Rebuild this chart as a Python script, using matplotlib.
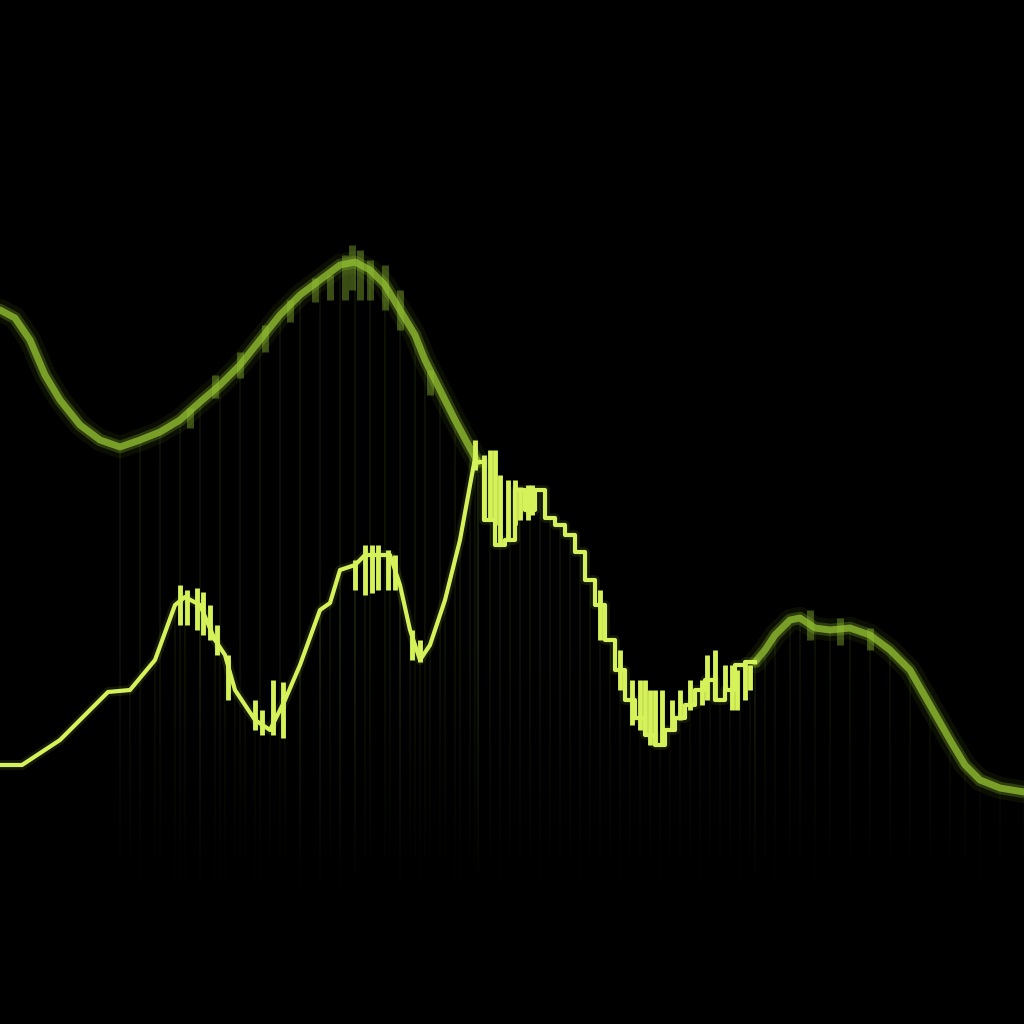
import numpy as np
import matplotlib.pyplot as plt

# --- datos (eje y invertido, 0 arriba) ---
# curva de fondo (desenfocada), parte izquierda
back_x = [0, 15, 30, 45, 60, 80, 100, 120, 140, 160, 180, 200, 220, 240, 260,
          280, 300, 320, 340, 355, 370, 385, 400, 415, 425, 440, 455, 470, 478]
back_y = [310, 318, 340, 375, 400, 425, 440, 447, 440, 432, 420, 402, 385, 365, 340,
          315, 295, 280, 265, 262, 270, 285, 310, 335, 360, 390, 420, 448, 462]

# curva de fondo, cola derecha
tail_x = [755, 765, 775, 790, 800, 815, 830, 850, 870, 890, 910, 930, 950, 965, 980, 1000, 1024]
tail_y = [662, 650, 635, 620, 618, 628, 630, 628, 635, 650, 670, 705, 740, 765, 780, 788, 792]

# continuacion nitida de la curva de fondo (escalonada)
mid_x = [478, 490, 500, 510, 520, 530, 540, 550, 560, 570, 580, 590, 600, 610, 620, 630,
         640, 650, 660, 670, 680, 690, 700, 710, 720, 730, 740, 750, 755]
mid_y = [462, 520, 545, 540, 490, 510, 490, 518, 525, 535, 552, 580, 605, 640, 670, 700,
         718, 735, 745, 730, 718, 705, 690, 680, 700, 690, 665, 662, 662]

# curva frontal (brillante)
front_x = [0, 22, 60, 108, 130, 155, 175, 185, 200, 215, 225, 235, 245, 255, 270, 285,
           300, 320, 330, 340, 355, 365, 390, 400, 410, 420, 430, 445, 460, 475]
front_y = [765, 765, 740, 692, 690, 660, 605, 597, 605, 640, 655, 690, 705, 720, 730, 700,
           665, 610, 603, 570, 565, 555, 555, 585, 630, 660, 645, 600, 540, 458]

# trazos verticales (picos) x, arriba, abajo
spk_x = [180, 187, 197, 203, 210, 217, 228, 255, 262, 273, 283, 355, 365, 372, 378, 388,
         395, 412, 420, 475, 484, 490, 495, 500, 508, 515, 520, 528, 532, 600, 620, 632,
         640, 645, 650, 655, 662, 672, 680, 690, 702, 707, 715, 725, 732, 737, 745, 750]
spk_top = [585, 590, 588, 592, 605, 625, 655, 700, 710, 680, 682, 560, 545, 545, 545, 550,
           555, 630, 640, 440, 455, 450, 450, 475, 480, 480, 487, 485, 485, 590, 650, 680,
           680, 680, 690, 690, 690, 700, 690, 680, 680, 655, 650, 665, 665, 670, 662, 665]
spk_bot = [625, 625, 630, 635, 640, 655, 700, 730, 735, 735, 738, 590, 595, 593, 590, 590,
           590, 660, 662, 470, 520, 520, 525, 545, 540, 525, 520, 520, 515, 640, 690, 725,
           730, 735, 745, 745, 745, 730, 720, 710, 705, 700, 700, 690, 710, 710, 700, 690]

# picos difusos de la curva de fondo
bspk_x = [190, 215, 240, 265, 290, 315, 330, 345, 352, 360, 370, 385, 400, 430, 810, 840, 870]
bspk_top = [408, 375, 352, 325, 300, 278, 275, 255, 245, 250, 260, 265, 290, 370, 610, 618, 628]
bspk_bot = [428, 398, 378, 352, 322, 302, 300, 300, 290, 300, 300, 310, 330, 395, 640, 645, 650]

BRIGHT = '#d6f25a'
DIM = '#93c233'

fig = plt.figure(figsize=(10.24, 10.24), dpi=100, facecolor='black')
ax = fig.add_axes([0, 0, 1, 1])
ax.set_facecolor('black')

# rayas verticales tenues bajo las curvas (solo desde x=120)
for xs, ys in [(back_x, back_y), (mid_x, mid_y), (tail_x, tail_y), (front_x, front_y)]:
    xs = np.array(xs)
    ys = np.array(ys)
    m = xs >= 120
    ax.vlines(xs[m], ys[m], 900, color='#3f5a18', lw=1.2, alpha=0.22)

# degradado negro para que las rayas se desvanezcan hacia abajo
grad = np.linspace(0, 1, 256).reshape(-1, 1)
fade = np.zeros((256, 1, 4))
fade[..., 3] = grad
ax.imshow(fade, extent=[0, 1024, 900, 650], aspect='auto', zorder=2)

# curvas desenfocadas (glow)
for xs, ys in [(back_x, back_y), (tail_x, tail_y)]:
    ax.plot(xs, ys, color=DIM, lw=16, alpha=0.08, solid_capstyle='round', zorder=3)
    ax.plot(xs, ys, color=DIM, lw=9, alpha=0.25, solid_capstyle='round', zorder=3)
    ax.plot(xs, ys, color=DIM, lw=5, alpha=0.75, solid_capstyle='round', zorder=3)
ax.vlines(bspk_x, bspk_top, bspk_bot, color=DIM, lw=5, alpha=0.4, zorder=3)

# curvas nitidas
ax.plot(mid_x, mid_y, color=BRIGHT, lw=7, alpha=0.1, drawstyle='steps-mid', zorder=4)
ax.plot(mid_x, mid_y, color=BRIGHT, lw=3, drawstyle='steps-mid', zorder=4)
ax.plot(front_x, front_y, color=BRIGHT, lw=7, alpha=0.1, zorder=4)
ax.plot(front_x, front_y, color=BRIGHT, lw=3, zorder=4)
ax.vlines(spk_x, spk_top, spk_bot, color=BRIGHT, lw=3.5, zorder=4)

ax.set_xlim(0, 1024)
ax.set_ylim(1024, 0)
ax.axis('off')

fig.savefig('out.png', dpi=100, facecolor='black')
